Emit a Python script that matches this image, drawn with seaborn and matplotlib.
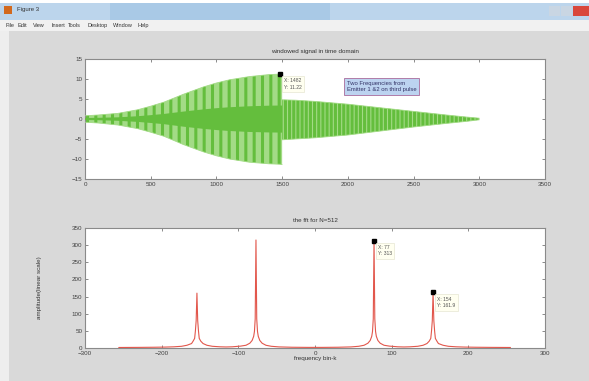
import matplotlib
matplotlib.use("Agg")
import matplotlib.pyplot as plt
from matplotlib.patches import Rectangle
import seaborn as sns
import pandas as pd

# ---------------- data ----------------
# time domain envelope, first pulse (samples 0..1500)
env1_x = [0, 100, 250, 400, 500, 600, 750, 900, 1000, 1100, 1250, 1400, 1482, 1500]
env1_up = [0.8, 1.0, 1.4, 2.3, 3.2, 4.2, 6.2, 8.0, 9.0, 9.8, 10.6, 11.1, 11.22, 11.2]
env1_lo = [-0.8, -1.0, -1.5, -2.4, -3.3, -4.3, -6.4, -8.2, -9.2, -10.0, -10.8, -11.2, -11.3, -11.4]
# time domain envelope, second part (samples 1500..3000)
env2_x = [1500, 1600, 1750, 2000, 2250, 2500, 2750, 2900, 3000]
env2_up = [4.8, 4.7, 4.4, 3.7, 2.8, 1.9, 1.0, 0.5, 0.2]
env2_lo = [-5.2, -5.0, -4.7, -4.0, -3.0, -2.0, -1.1, -0.6, -0.2]

# FFT magnitude (bin, amplitude)
fft_bins = [-256, -230, -210, -195, -184, -174, -167, -161, -159, -157, -156, -155, -154,
            -153, -152, -151, -149, -146, -141, -134, -124, -116, -108, -100, -97, -90,
            -85, -82, -80, -79, -78, -77, -76, -75, -74, -72, -69, -64, -57, -47, -30,
            -10, 0, 10, 30, 47, 57, 64, 69, 72, 74, 75, 76, 77, 78, 79, 80, 82, 85, 90,
            97, 100, 108, 116, 124, 134, 141, 146, 149, 151, 152, 153, 154, 155, 156,
            157, 159, 161, 167, 174, 184, 195, 210, 230, 255]
fft_amp = [1.5, 1.8, 2.2, 2.7, 3.5, 5.0, 8.0, 13.0, 20.0, 28.0, 50.0, 80.0, 160.0,
           80.0, 50.0, 28.0, 20.0, 13.0, 8.0, 5.0, 3.5, 3.0, 3.5, 5.0, 5.5, 8.0,
           14.0, 22.0, 34.0, 48.0, 85.0, 315.0, 85.0, 48.0, 34.0, 22.0, 14.0, 8.0, 5.0, 3.2, 2.2,
           1.8, 1.8, 1.8, 2.2, 3.2, 5.0, 8.0, 14.0, 22.0, 34.0, 48.0, 85.0, 313.0, 85.0, 48.0, 34.0, 22.0, 14.0, 8.0,
           5.5, 5.0, 3.5, 3.0, 3.5, 5.0, 8.0, 13.0, 20.0, 28.0, 50.0, 80.0, 161.9, 80.0, 50.0,
           28.0, 20.0, 13.0, 8.0, 5.0, 3.5, 2.7, 2.2, 1.8, 1.5]

top_xticks = [0, 500, 1000, 1500, 2000, 2500, 3000, 3500]
top_yticks = [-15, -10, -5, 0, 5, 10, 15]
bot_xticks = [-300, -200, -100, 0, 100, 200, 300]
bot_yticks = [0, 50, 100, 150, 200, 250, 300, 350]

tip1 = (1482, 11.22)
tip2 = (77, 313)
tip3 = (154, 161.9)

menu_items = ['File', 'Edit', 'View', 'Insert', 'Tools', 'Desktop', 'Window', 'Help']

# ---------------- style ----------------
sns.set_theme(style="white")
plt.rcParams['font.family'] = ['Liberation Sans', 'DejaVu Sans']
plt.rcParams['hatch.linewidth'] = 2.2

W, H = 589, 381
fig = plt.figure(figsize=(W / 100, H / 100), dpi=100, facecolor='#d9d9d9')

def px_rect(x0, y0, x1, y1, color):
    fig.patches.append(Rectangle((x0 / W, 1 - y1 / H), (x1 - x0) / W, (y1 - y0) / H,
                                 transform=fig.transFigure, facecolor=color,
                                 edgecolor='none', zorder=0))

# window chrome
px_rect(0, 0, W, 3, '#ffffff')
px_rect(0, 3, W, 20, '#bcd5ec')
px_rect(110, 3, 330, 20, '#a9c9e6')
px_rect(0, 20, W, 31, '#f1f1f1')
px_rect(0, 31, 9, H, '#eeeeee')
px_rect(4, 6, 12, 14, '#d2691e')
px_rect(549, 6, 560, 16, '#c9d6e3')
px_rect(561, 6, 572, 16, '#c9d6e3')
px_rect(573, 6, 589, 16, '#d9473b')
fig.text(17 / W, 1 - 10 / H, 'Figure 3', fontsize=4.3, color='#333333', va='center', ha='left')
menu_x = [6, 18, 33, 52, 68, 88, 113, 138]
for name, xp in zip(menu_items, menu_x):
    fig.text(xp / W, 1 - 25.5 / H, name, fontsize=4.0, color='#333333', va='center', ha='left')

axl, axw = 85 / W, 460 / W
ax1 = fig.add_axes([axl, 1 - 179 / H, axw, 120 / H])
ax2 = fig.add_axes([axl, 1 - 348 / H, axw, 120 / H])

green_light = '#a3db86'
green = '#64be3d'
# first pulse: light body with dense darker teeth
ax1.fill_between(env1_x, env1_lo, env1_up, facecolor=green_light, edgecolor=green,
                 hatch='||', linewidth=0, zorder=2)
ax1.fill_between(env1_x, [v * 0.3 for v in env1_lo], [v * 0.3 for v in env1_up],
                 facecolor=green, edgecolor='none', zorder=3)
# second part: nearly solid green with fine light lines
ax1.fill_between(env2_x, env2_lo, env2_up, facecolor=green_light, edgecolor=green,
                 hatch='||||', linewidth=0, zorder=2)

env_df = pd.DataFrame({'x': env1_x + env2_x, 'up': env1_up + env2_up,
                       'lo': env1_lo + env2_lo,
                       'part': ['a'] * len(env1_x) + ['b'] * len(env2_x)})
for part, d in env_df.groupby('part'):
    sns.lineplot(x=d['x'], y=d['up'], ax=ax1, color=green_light, linewidth=0.6, zorder=4)
    sns.lineplot(x=d['x'], y=d['lo'], ax=ax1, color=green_light, linewidth=0.6, zorder=4)

fft_df = pd.DataFrame({'bin': fft_bins, 'amp': fft_amp})
sns.lineplot(data=fft_df, x='bin', y='amp', ax=ax2, color='#e2574c', linewidth=0.8, zorder=3)

ax1.set_xlim(0, 3500)
ax1.set_ylim(-15, 15)
ax1.set_xticks(top_xticks)
ax1.set_yticks(top_yticks)
ax2.set_xlim(-300, 300)
ax2.set_ylim(0, 350)
ax2.set_xticks(bot_xticks)
ax2.set_yticks(bot_yticks)

for ax in (ax1, ax2):
    ax.set_facecolor('white')
    ax.set_xlabel('')
    ax.set_ylabel('')
    for s in ax.spines.values():
        s.set_color('#8a8a8a')
        s.set_linewidth(0.8)
    ax.tick_params(direction='in', length=2.5, width=0.6, color='#777777',
                   labelsize=4.5, labelcolor='#404040', pad=2,
                   top=True, right=True, bottom=True, left=True)

ax1.set_title('windowed signal in time domain', fontsize=4.5, color='#333333', pad=4.5)
ax2.set_title('the fft for N=512', fontsize=4.5, color='#333333', pad=4.5)
ax2.set_xlabel('frequency bin-k', fontsize=4.5, color='#333333')
ax2.xaxis.set_label_coords(0.5, -0.065)
ax2.set_ylabel('amplitude(linear scale)', fontsize=4.5, color='#333333')
ax2.yaxis.set_label_coords(-0.094, 0.5)

ax1.text(1990, 8.2, 'Two Frequencies from\nEmitter 1 &2 on third pulse', fontsize=4.2,
         color='#333366', ha='left', va='center', linespacing=1.3, zorder=6,
         bbox=dict(boxstyle='square,pad=0.5', facecolor='#bcd3f0', edgecolor='#b07ca8', linewidth=0.7))

def datatip(ax, pt, label):
    ax.plot([pt[0]], [pt[1]], marker='s', markersize=3, color='black', zorder=7)
    ax.annotate(label, xy=pt, xytext=(3, -3), textcoords='offset points',
                fontsize=3.6, color='#555555', ha='left', va='top', linespacing=1.4, zorder=7,
                bbox=dict(boxstyle='square,pad=0.45', facecolor='#fffff0', edgecolor='#e6e6d2', linewidth=0.5))

datatip(ax1, tip1, 'X: 1482\nY: 11.22')
datatip(ax2, tip2, 'X: 77\nY: 313')
datatip(ax2, tip3, 'X: 154\nY: 161.9')

fig.savefig('out.png', dpi=100, facecolor=fig.get_facecolor())
